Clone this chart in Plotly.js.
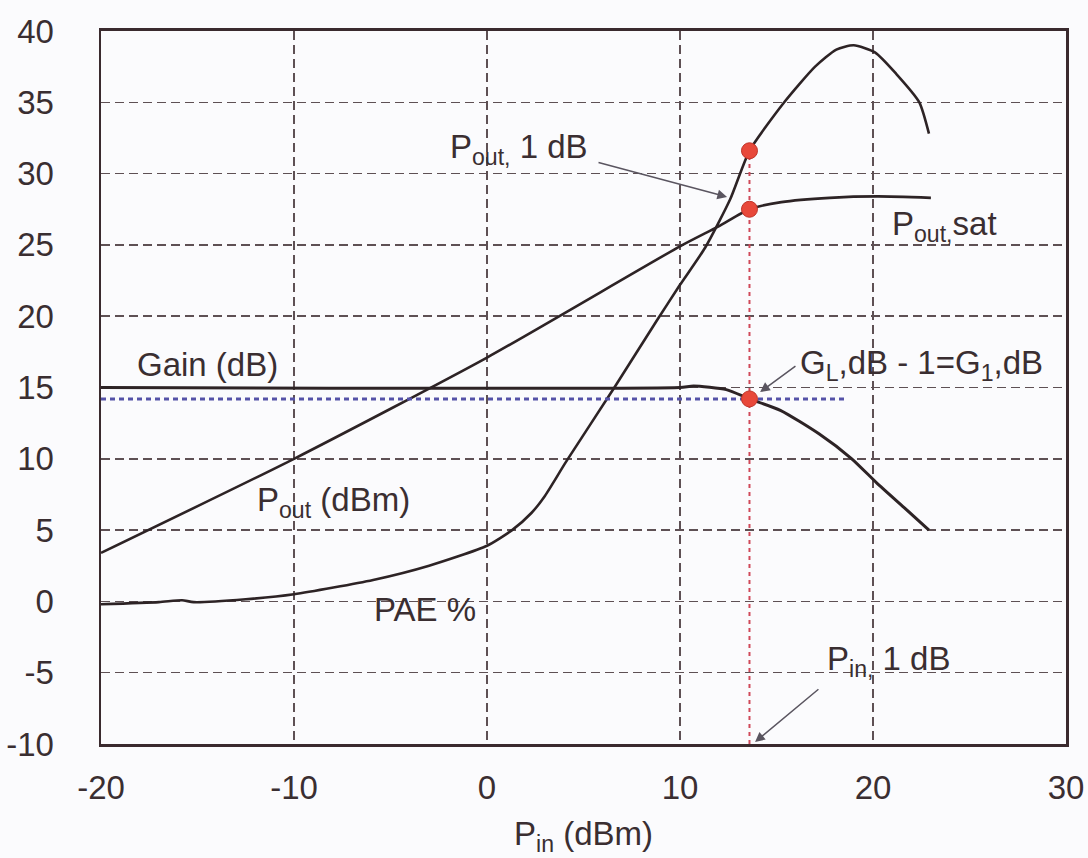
<!DOCTYPE html>
<html>
<head>
<meta charset="utf-8">
<script src="https://cdn.plot.ly/plotly-3.0.1.min.js"></script>
<style>
  html, body { margin: 0; padding: 0; background: #fbfbfd; }
  #chart { width: 1088px; height: 858px; }
</style>
</head>
<body>
<div id="chart"></div>
<script>
// ---- data ----
const xTicks = [-20, -10, 0, 10, 20, 30];
const yTicks = [-10, -5, 0, 5, 10, 15, 20, 25, 30, 35, 40];

const pinPae = [-20, -17, -15.8, -15.2, -12.5, -10, -5.9, -3, 0, 1.3, 2.3, 3, 4.1, 6.6, 8.8, 10, 11.3, 12.6, 13.6, 15.4, 17, 18.1, 19, 20.1, 21.2, 22.4, 22.9];
const pae    = [-0.2, -0.05, 0.08, -0.05, 0.15, 0.5, 1.5, 2.5, 3.9, 5, 6.2, 7.4, 9.8, 15, 19.7, 22.2, 24.8, 28.2, 31.6, 35, 37.5, 38.7, 39, 38.5, 37, 35, 32.8];

const pinPout = [-20, -10, 0, 10, 12, 13.6, 15.25, 17.75, 20.25, 23];
const pout    = [3.4, 10, 17.1, 24.9, 26.3, 27.5, 28.0, 28.3, 28.4, 28.3];

const pinGain = [-20, 10, 10.7, 12.4, 13.6, 15.2, 17.2, 18.9, 20.2, 21.6, 22.9];
const gain    = [15, 15, 15.1, 14.85, 14.2, 13.4, 11.75, 10, 8.3, 6.6, 5.0];

const pin1dB = 13.6;                  // P_in,1dB
const points1dB = [31.6, 27.5, 14.2]; // PAE, Pout, Gain at P_in,1dB
const gain1dB = 14.2;                 // G_L - 1 dB level
const gainRefEnd = 18.7;              // end of the dotted G1dB line
const yMin = -10;

const ink = '#2d2325';
const txt = '#3a2e31';
const gridCol = '#5e5054';
const fontFam = '"Liberation Sans", Arial, sans-serif';
const fs = 33;

const traces = [
  { x: pinPae, y: pae, mode: 'lines', line: { color: ink, width: 2.6, shape: 'spline', smoothing: 0.6 }, hoverinfo: 'skip' },
  { x: pinPout, y: pout, mode: 'lines', line: { color: ink, width: 2.6, shape: 'spline', smoothing: 0.6 }, hoverinfo: 'skip' },
  { x: [pinGain[0], gainRefEnd], y: [gain1dB, gain1dB], mode: 'lines', line: { color: '#5552a8', width: 3, dash: '5px,4px' }, hoverinfo: 'skip' },
  { x: pinGain, y: gain, mode: 'lines', line: { color: ink, width: 3, shape: 'spline', smoothing: 0.6 }, hoverinfo: 'skip' },
  { x: [pin1dB, pin1dB], y: [yMin, points1dB[0]], mode: 'lines', line: { color: '#d04a5a', width: 2, dash: '4px,4px' }, hoverinfo: 'skip' },
  { x: points1dB.map(() => pin1dB), y: points1dB, mode: 'markers',
    marker: { color: '#e8483a', size: 16, line: { color: '#c0352a', width: 1 } }, hoverinfo: 'skip' }
];

const tf = { family: fontFam, size: fs, color: txt };
const arrowCol = '#5a5560';
const annotations = [
  { x: -2.0, y: 31.7, xref: 'x', yref: 'y', text: 'P<sub>out,</sub> 1 dB', showarrow: false, xanchor: 'left', yanchor: 'middle', font: tf },
  { x: 12.44, y: 28.36, ax: 5.7, ay: 30.81, xref: 'x', yref: 'y', axref: 'x', ayref: 'y', text: '', showarrow: true,
    arrowhead: 2, arrowsize: 1.3, arrowwidth: 1.5, arrowcolor: arrowCol },
  { x: 20.88, y: 26.3, xref: 'x', yref: 'y', text: 'P<sub>out,</sub>sat', showarrow: false, xanchor: 'left', yanchor: 'middle', font: tf },
  { x: -18.24, y: 16.6, xref: 'x', yref: 'y', text: 'Gain (dB)', showarrow: false, xanchor: 'left', yanchor: 'middle', font: tf },
  { x: 16.11, y: 16.6, xref: 'x', yref: 'y', text: 'G<sub>L</sub>,dB - 1=G<sub>1</sub>,dB', showarrow: false, xanchor: 'left', yanchor: 'middle', font: tf },
  { x: 14.15, y: 14.68, ax: 16.06, ay: 16.58, xref: 'x', yref: 'y', axref: 'x', ayref: 'y', text: '', showarrow: true,
    arrowhead: 2, arrowsize: 1.3, arrowwidth: 1.5, arrowcolor: arrowCol },
  { x: -12.02, y: 6.97, xref: 'x', yref: 'y', text: 'P<sub>out</sub> (dBm)', showarrow: false, xanchor: 'left', yanchor: 'middle', font: tf },
  { x: -5.96, y: -0.6, xref: 'x', yref: 'y', text: 'PAE %', showarrow: false, xanchor: 'left', yanchor: 'middle', font: tf },
  { x: 17.51, y: -4.18, xref: 'x', yref: 'y', text: 'P<sub>in,</sub> 1 dB', showarrow: false, xanchor: 'left', yanchor: 'middle', font: tf },
  { x: 13.89, y: -9.86, ax: 17.25, ay: -6.07, xref: 'x', yref: 'y', axref: 'x', ayref: 'y', text: '', showarrow: true,
    arrowhead: 2, arrowsize: 1.3, arrowwidth: 1.5, arrowcolor: arrowCol }
];

const layout = {
  width: 1088, height: 858,
  margin: { l: 101, r: 22, t: 31, b: 114 },
  paper_bgcolor: '#fbfbfd', plot_bgcolor: '#fbfbfd',
  showlegend: false,
  font: { family: fontFam, color: txt },
  xaxis: {
    range: [-20, 30], tickvals: xTicks, ticktext: xTicks.map(String),
    showgrid: true, gridcolor: gridCol, gridwidth: 1.5, griddash: '9px,5px',
    zeroline: false, showline: true, mirror: true, linecolor: '#3a2a2e', linewidth: 3,
    ticks: '', ticklabelstandoff: 12,
    tickfont: { family: fontFam, size: fs, color: txt },
    title: { text: 'P<sub>in</sub> (dBm)', font: { family: fontFam, size: fs, color: txt }, standoff: 18 }
  },
  yaxis: {
    range: [-10, 40], tickvals: yTicks, ticktext: yTicks.map(String),
    showgrid: true, gridcolor: gridCol, gridwidth: 1.5, griddash: '9px,5px',
    zeroline: false, showline: true, mirror: true, linecolor: '#3a2a2e', linewidth: 2.5,
    ticks: '', ticklabelstandoff: 38,
    tickfont: { family: fontFam, size: fs, color: txt }
  },
  annotations: annotations
};

Plotly.newPlot('chart', traces, layout, { staticPlot: true, displayModeBar: false });
</script>
</body>
</html>
